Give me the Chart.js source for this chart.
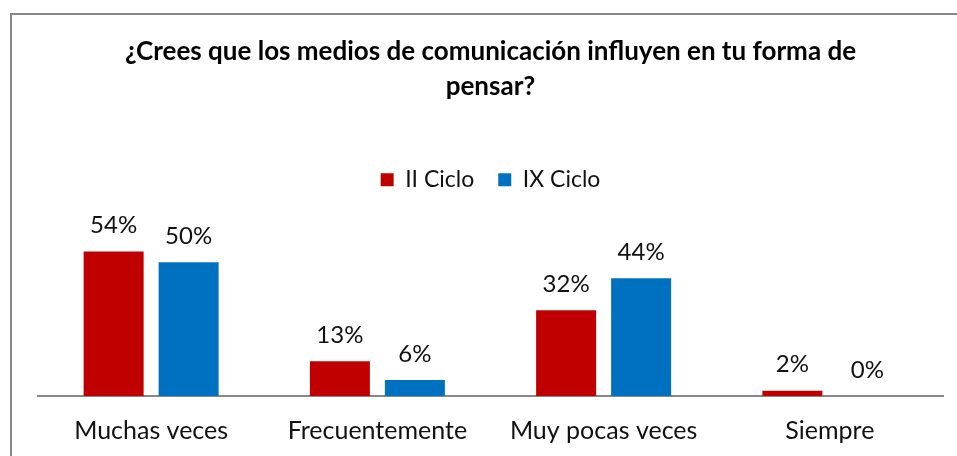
<!DOCTYPE html>
<html>
<head>
<meta charset="utf-8">
<script src="https://cdn.jsdelivr.net/npm/chart.js@4/dist/chart.umd.min.js"></script>
<style>
  html, body { margin: 0; padding: 0; background: #fff; }
  #wrap { width: 957px; height: 456px; position: relative; }
</style>
</head>
<body>
<div id="wrap"><canvas id="c" width="957" height="456"></canvas></div>
<script>
const categories = ["Muchas veces", "Frecuentemente", "Muy pocas veces", "Siempre"];
const seriesNames = ["II Ciclo", "IX Ciclo"];
const cicloII = [54, 13, 32, 2];
const cicloIX = [50, 6, 44, 0];
const titleLines = ["¿Crees que los medios de comunicación influyen en tu forma de", "pensar?"];
const yAxisMax = 72.8;

const FONT = "Lato";

const framePlugin = {
  id: 'frame',
  beforeDraw(chart) {
    const ctx = chart.ctx;
    ctx.save();
    ctx.strokeStyle = '#878787';
    ctx.lineWidth = 2;
    ctx.beginPath();
    ctx.moveTo(11, chart.height + 5);
    ctx.lineTo(11, 14);
    ctx.lineTo(chart.width + 5, 14);
    ctx.stroke();
    ctx.restore();
  }
};

const labelPlugin = {
  id: 'valueLabels',
  afterDatasetsDraw(chart) {
    const ctx = chart.ctx;
    ctx.save();
    ctx.font = "24px " + FONT;
    ctx.fillStyle = '#111';
    ctx.textAlign = 'center';
    ctx.textBaseline = 'middle';
    chart.data.datasets.forEach((ds, i) => {
      const meta = chart.getDatasetMeta(i);
      meta.data.forEach((el, j) => {
        ctx.fillText(ds.data[j] + '%', el.x, el.y - 26);
      });
    });
    ctx.restore();
  }
};

new Chart(document.getElementById('c'), {
  type: 'bar',
  data: {
    labels: categories,
    datasets: [
      { label: seriesNames[0], data: cicloII, backgroundColor: '#C00000', borderWidth: 0 },
      { label: seriesNames[1], data: cicloIX, backgroundColor: '#0070C0', borderWidth: 0 }
    ]
  },
  options: {
    responsive: false,
    animation: false,
    devicePixelRatio: 1,
    categoryPercentage: 0.663,
    barPercentage: 0.8,
    layout: { padding: { left: 38, right: 14, top: 34, bottom: 0 } },
    plugins: {
      title: {
        display: true,
        text: titleLines,
        color: '#000',
        font: { family: FONT, size: 26, weight: 'bold', lineHeight: 1.35 },
        padding: { top: 0, bottom: 40 }
      },
      legend: {
        display: true,
        labels: {
          boxWidth: 13,
          boxHeight: 13,
          color: '#111',
          font: { family: FONT, size: 23 },
          padding: 24
        }
      },
      tooltip: { enabled: false }
    },
    scales: {
      x: {
        grid: { display: false, drawTicks: false },
        border: { display: true, color: '#888', width: 2 },
        ticks: { color: '#111', font: { family: FONT, size: 25 }, padding: 20 },
        afterFit(scale) { scale.height = 60; }
      },
      y: {
        display: false,
        min: 0,
        max: yAxisMax
      }
    }
  },
  plugins: [framePlugin, labelPlugin]
});
</script>
</body>
</html>
